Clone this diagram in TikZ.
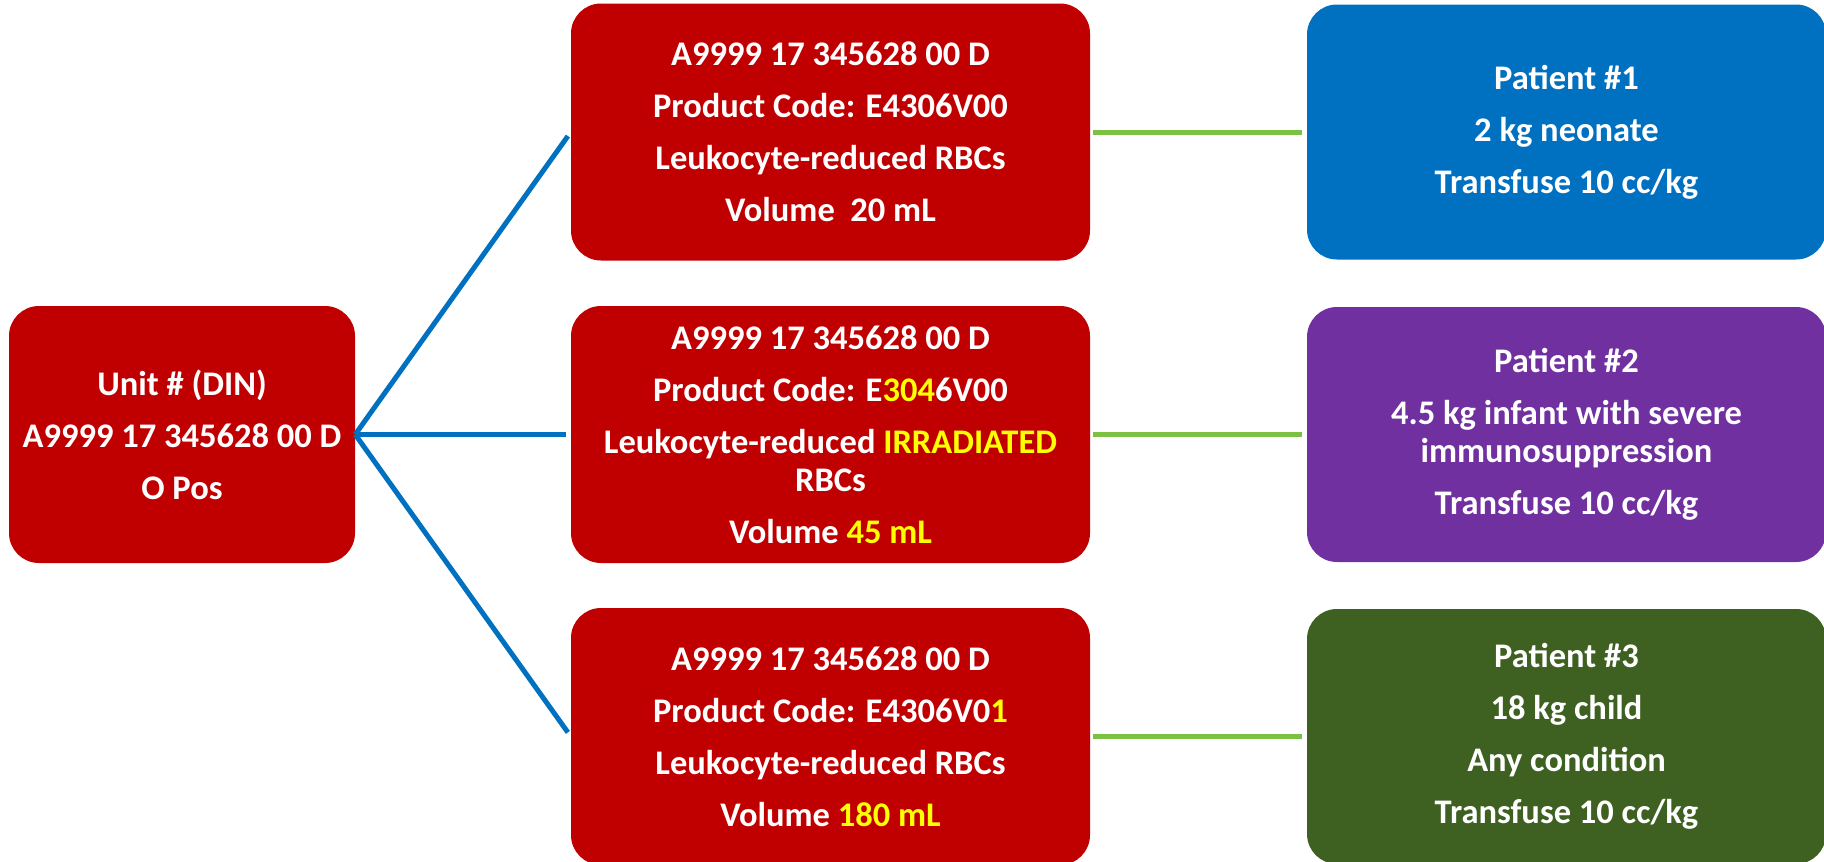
\documentclass[tikz,border=0pt]{standalone}
\usepackage{fontspec}
\setmainfont{Carlito}
\definecolor{boxred}{HTML}{C00000}
\definecolor{boxblue}{HTML}{0070C0}
\definecolor{boxpurple}{HTML}{7030A0}
\definecolor{boxgreen}{HTML}{3E6020}
\definecolor{linegreen}{HTML}{7DC142}
\definecolor{lineblue}{HTML}{0070C0}
\definecolor{hl}{HTML}{FFFF00}
\tikzset{
  card/.style={rectangle, rounded corners=30pt, draw=none, text=white,
    align=center, inner sep=0pt,
    font=\fontsize{34.5}{38}\selectfont\bfseries},
  leftcard/.style={card, fill=boxred, minimum width=346pt, minimum height=257pt},
  midcard/.style={card, fill=boxred, minimum width=519pt, minimum height=257pt},
  patcard/.style={card, minimum width=519pt, minimum height=255pt},
  bluelink/.style={draw=lineblue, line width=5pt},
  greenlink/.style={draw=linegreen, line width=5pt, shorten <=3pt, shorten >=5pt},
}
\begin{document}
\begin{tikzpicture}[x=1pt, y=-1pt]
\useasboundingbox (0,0) rectangle (1824,862);
\clip (0,0) rectangle (1824,862);
\node[leftcard] (L) at (182,434.5) {Unit \# (DIN)\\[14pt]A9999 17 345628 00 D\\[14pt]O Pos};
\node[midcard] (M1) at (830.5,132) {A9999 17 345628 00 D\\[14pt]Product Code: E4306V00\\[14pt]Leukocyte-reduced RBCs\\[14pt]Volume~~20 mL};
\node[midcard] (M2) at (830.5,434.5) {A9999 17 345628 00 D\\[14pt]Product Code: E\textcolor{hl}{304}6V00\\[14pt]Leukocyte-reduced \textcolor{hl}{IRRADIATED}\\RBCs\\[14pt]Volume \textcolor{hl}{45 mL}};
\node[midcard] (M3) at (830.5,736.5) {A9999 17 345628 00 D\\[14pt]Product Code: E4306V0\textcolor{hl}{1}\\[14pt]Leukocyte-reduced RBCs\\[14pt]Volume \textcolor{hl}{180 mL}};
\node[patcard, fill=boxblue] (P1) at (1566.5,132) {Patient \#1\\[14pt]2 kg neonate\\[14pt]Transfuse 10 cc/kg};
\node[patcard, fill=boxpurple] (P2) at (1566.5,434.5) {Patient \#2\\[14pt]4.5 kg infant with severe\\immunosuppression\\[14pt]Transfuse 10 cc/kg};
\node[patcard, fill=boxgreen] (P3) at (1566.5,736.5) {Patient \#3\\[14pt]18 kg child\\[14pt]Any condition\\[14pt]Transfuse 10 cc/kg};
\draw[bluelink, shorten >=5pt] (L.east) -- (M1.west);
\draw[bluelink, shorten >=5pt] (L.east) -- (M2.west);
\draw[bluelink, shorten >=5pt] (L.east) -- (M3.west);
\draw[greenlink] (M1.east) -- (P1.west);
\draw[greenlink] (M2.east) -- (P2.west);
\draw[greenlink] (M3.east) -- (P3.west);
\end{tikzpicture}
\end{document}
